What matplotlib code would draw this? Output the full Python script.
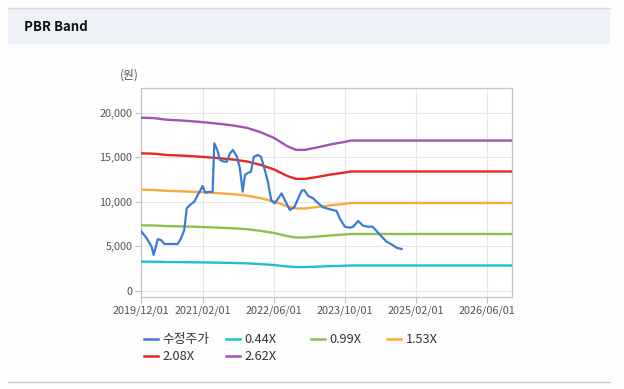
import matplotlib.pyplot as plt
import matplotlib.dates as mdates
import numpy as np
import pandas as pd
from matplotlib.patches import Rectangle
from matplotlib.lines import Line2D

plt.rcParams["font.family"] = ["Noto Sans CJK KR", "DejaVu Sans"]

# adjusted close price (수정주가)
PRICE_DATES = [
    "2019-12-01", "2020-01-11", "2020-02-14", "2020-02-28", "2020-03-27",
    "2020-04-18", "2020-05-11", "2020-08-11", "2020-09-03", "2020-09-25",
    "2020-10-12", "2020-11-03", "2020-12-03", "2021-01-02", "2021-01-29",
    "2021-02-16", "2021-03-12", "2021-04-08", "2021-04-19", "2021-05-10",
    "2021-05-28", "2021-06-24", "2021-07-15", "2021-08-05", "2021-08-25",
    "2021-09-22", "2021-10-12", "2021-10-31", "2021-11-16", "2021-12-08",
    "2021-12-27", "2022-01-16", "2022-02-13", "2022-03-05", "2022-03-26",
    "2022-04-22", "2022-05-16", "2022-06-09", "2022-07-25", "2022-08-22",
    "2022-09-20", "2022-10-20", "2022-12-10", "2022-12-27", "2023-01-24",
    "2023-02-27", "2023-04-02", "2023-05-07", "2023-06-22", "2023-08-07",
    "2023-08-29", "2023-10-03", "2023-11-06", "2023-11-29", "2024-01-02",
    "2024-02-05", "2024-03-11", "2024-04-10", "2024-05-07", "2024-06-11",
    "2024-07-15", "2024-08-18", "2024-09-21", "2024-10-26",
]
PRICE = [
    6750, 5890, 4950, 4010, 5780,
    5700, 5250, 5250, 5890, 6820,
    9260, 9630, 10000, 10940, 11760,
    11010, 11100, 11120, 16560, 15810,
    14690, 14500, 14500, 15440, 15810,
    15060, 13750, 11120, 13000, 13260,
    13370, 15060, 15250, 15060, 13930,
    12250, 10100, 9820, 10940, 10000,
    9070, 9370, 11240, 11310, 10640,
    10380, 9820, 9370, 9150, 8950,
    8100, 7190, 7080, 7190, 7830,
    7300, 7190, 7190, 6710, 6070,
    5510, 5210, 4830, 4690,
]

# book value per share behind the bands
BPS_DATES = [
    "2019-12-01", "2020-03-01", "2020-06-01", "2020-09-01", "2020-12-01",
    "2021-03-01", "2021-06-01", "2021-09-01", "2021-12-01", "2022-03-01",
    "2022-06-01", "2022-09-01", "2022-11-01", "2023-01-01", "2023-04-01",
    "2023-07-01", "2023-10-01", "2023-11-15", "2026-11-25",
]
BPS = [
    7420, 7400, 7330, 7300, 7260,
    7210, 7150, 7080, 6980, 6800,
    6560, 6200, 6040, 6040, 6150,
    6280, 6380, 6440, 6440,
]

MULTIPLES = [0.44, 0.99, 1.53, 2.08, 2.62]
BAND_LABELS = ["0.44X", "0.99X", "1.53X", "2.08X", "2.62X"]
BAND_COLORS = ["#1fbcd2", "#8cc04f", "#f8aa3e", "#e5291f", "#9b55b5"]
PRICE_COLOR = "#3a7bd5"

X_TICKS = ["2019-12-01", "2021-02-01", "2022-06-01", "2023-10-01",
           "2025-02-01", "2026-06-01"]
Y_TICKS = [0, 5000, 10000, 15000, 20000]

W, H = 624, 389


def main() -> None:
    fig = plt.figure(figsize=(W / 100, H / 100), dpi=100)
    fig.patch.set_facecolor("#fdfdfd")

    # header band
    fig.patches.append(Rectangle((8 / W, 1 - 44 / H), 602 / W, 36 / H,
                                 transform=fig.transFigure,
                                 facecolor="#eef2f8", edgecolor="none"))
    fig.lines.append(Line2D([8 / W, 610 / W], [1 - 8 / H] * 2,
                            transform=fig.transFigure, color="#d8d8d8", lw=1))
    fig.lines.append(Line2D([8 / W, 610 / W], [1 - 382 / H] * 2,
                            transform=fig.transFigure, color="#cccccc", lw=1))
    fig.text(24 / W, 1 - 27 / H, "PBR Band", fontsize=9.5, fontweight="bold",
             color="#111111", va="center", ha="left")

    ax = fig.add_axes([140.7 / W, 1 - 297.3 / H, 371.6 / W, 209 / H])
    ax.set_facecolor("white")

    bps_dates = pd.to_datetime(BPS_DATES)
    bps = np.array(BPS, dtype=float)
    price_dates = pd.to_datetime(PRICE_DATES)

    handles = []
    (h,) = ax.plot(price_dates, PRICE, color=PRICE_COLOR, lw=1.6,
                   label="수정주가", zorder=5)
    handles.append(h)
    for mult, label, color in zip(MULTIPLES, BAND_LABELS, BAND_COLORS):
        (h,) = ax.plot(bps_dates, bps * mult, color=color, lw=1.7,
                       label=label, zorder=3)
        handles.append(h)

    ax.set_xlim(pd.Timestamp("2019-12-01"), pd.Timestamp("2026-11-25"))
    ax.set_ylim(-740, 22740)
    ax.set_xticks(pd.to_datetime(X_TICKS))
    ax.xaxis.set_major_formatter(mdates.DateFormatter("%Y/%m/%d"))
    ax.set_yticks(Y_TICKS)
    ax.set_yticklabels([f"{v:,}" for v in Y_TICKS])

    ax.grid(True, color="#e6e6e6", lw=0.8)
    ax.set_axisbelow(True)
    for spine in ax.spines.values():
        spine.set_color("#c4c4c4")
        spine.set_linewidth(0.9)
    ax.tick_params(axis="both", colors="#c4c4c4", labelcolor="#555555",
                   labelsize=7.8, length=4, width=0.8, pad=2)

    fig.text(129 / W, 1 - 75 / H, "(원)", fontsize=8.5, color="#555555",
             ha="center", va="center")

    # legend laid out in fixed columns like the source page
    columns = [
        (144, [handles[0], handles[4]]),
        (225.7, [handles[1], handles[5]]),
        (311, [handles[2]]),
        (387, [handles[3]]),
    ]
    for x_px, col in columns:
        leg = fig.legend(handles=col, labels=[c.get_label() for c in col],
                         loc="upper left",
                         bbox_to_anchor=(x_px / W, 1 - 333 / H),
                         frameon=False, borderpad=0, borderaxespad=0,
                         handlelength=1.1, handletextpad=0.35,
                         labelspacing=0.35, fontsize=9.2,
                         labelcolor="#333333")
        for line in leg.get_lines():
            line.set_linewidth(1.8)

    fig.savefig("out.png", dpi=100, facecolor=fig.get_facecolor())
    plt.close(fig)


if __name__ == "__main__":
    main()
